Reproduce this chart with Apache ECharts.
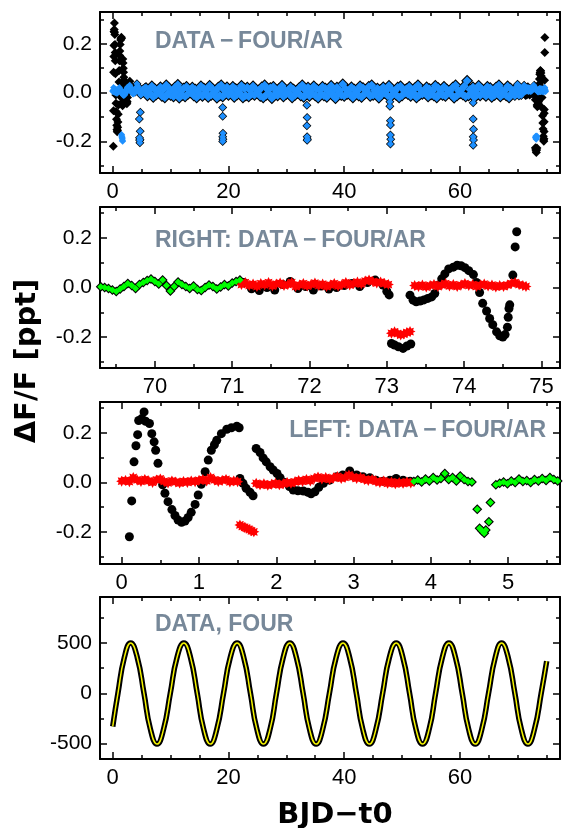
<!DOCTYPE html>
<html><head><meta charset="utf-8">
<script src="https://cdn.jsdelivr.net/npm/echarts@6/dist/echarts.min.js"></script>
<style>html,body{margin:0;padding:0;background:#fff}#c{width:566px;height:828px}</style>
</head><body><div id="c"></div>
<script>
// ---------- tick values ----------
const fullXMajor = [0, 20, 40, 60];
const fullXMinor = [5, 10, 15, 25, 30, 35, 45, 50, 55, 65, 70, 75];
const rightXMajor = [70, 71, 72, 73, 74, 75];
const rightXMinor = [69.5, 70.5, 71.5, 72.5, 73.5, 74.5];
const leftXMajor = [0, 1, 2, 3, 4, 5];
const leftXMinor = [0.5, 1.5, 2.5, 3.5, 4.5, 5.5];
const fluxYMajor = [-0.2, 0, 0.2];
const fluxYMinor = [-0.3, -0.1, 0.1, 0.3];
const fourYMajor = [-500, 0, 500];
const fourYMinor = [-250, 250, 750];

// ---------- LEFT end (days 0 - 5.7) ----------
// DATA-FOUR where it differs from the AR residual (black circles)
const leftData = [[0.10,-0.22],[0.13,-0.075],[0.16,0.083],[0.185,0.148],[0.207,0.193],[0.22,0.25],[0.26,0.258],[0.29,0.285],[0.31,0.247],[0.36,0.238],[0.39,0.197],[0.42,0.164],[0.44,0.13],[0.47,0.077],[0.53,-0.01],[0.56,-0.044],[0.60,-0.078],[0.65,-0.11],[0.69,-0.134],[0.73,-0.152],[0.775,-0.161],[0.82,-0.156],[0.86,-0.142],[0.90,-0.121],[0.95,-0.089],[0.99,-0.051],[1.03,-0.008],[1.08,0.043],[1.12,0.09],[1.16,0.13],[1.20,0.152],[1.23,0.17],[1.29,0.197],[1.36,0.215],[1.42,0.221],[1.49,0.227],[1.52,0.221],[1.53,0.016],[1.57,-0.004],[1.61,-0.024],[1.66,-0.04],[1.70,-0.054],[1.74,0.137],[1.79,0.121],[1.83,0.099],[1.87,0.083],[1.92,0.063],[1.96,0.05],[2.01,0.036],[2.05,0.019],[2.11,0.0],[2.17,-0.017],[2.22,-0.031],[2.28,-0.034],[2.35,-0.035],[2.41,-0.04],[2.45,-0.046],[2.50,-0.038],[2.55,-0.02],[2.61,-0.004],[2.69,0.009],[2.78,0.023],[2.86,0.03],[2.95,0.046],[3.04,0.03],[3.12,0.023],[3.21,0.019],[3.29,0.009],[3.38,0.005],[3.47,0.009],[3.55,0.016],[3.64,0.009],[3.73,0.005]];
// DATA-FOUR/AR residual (red)
const leftAR = [[0.00,0.005],[0.05,0.008],[0.10,0.003],[0.15,0.02],[0.20,0.01],[0.25,0.004],[0.30,0.012],[0.35,0.006],[0.40,0.0],[0.45,0.01],[0.50,0.014],[0.55,0.004],[0.60,-0.002],[0.65,0.006],[0.70,0.002],[0.75,-0.003],[0.80,0.004],[0.85,0.0],[0.90,0.006],[0.95,0.003],[1.00,0.008],[1.05,0.012],[1.10,0.006],[1.15,0.02],[1.20,0.01],[1.25,0.004],[1.30,0.008],[1.35,0.012],[1.40,0.002],[1.45,0.006],[1.50,0.003],[1.53,-0.172],[1.56,-0.178],[1.59,-0.182],[1.62,-0.186],[1.65,-0.19],[1.68,-0.196],[1.71,-0.2],[1.74,-0.004],[1.79,-0.01],[1.84,-0.006],[1.89,-0.012],[1.94,-0.008],[1.99,-0.004],[2.04,-0.01],[2.09,-0.006],[2.14,0.0],[2.19,-0.004],[2.24,0.002],[2.29,0.008],[2.34,0.004],[2.39,0.012],[2.44,0.006],[2.49,0.016],[2.54,0.022],[2.59,0.014],[2.64,0.02],[2.69,0.012],[2.74,0.018],[2.79,0.024],[2.84,0.016],[2.89,0.02],[2.94,0.03],[2.99,0.022],[3.04,0.016],[3.09,0.02],[3.14,0.012],[3.19,0.008],[3.24,0.012],[3.29,0.004],[3.34,0.0],[3.39,0.006],[3.44,-0.004],[3.49,0.002],[3.54,-0.006],[3.59,0.0],[3.64,-0.004],[3.69,0.002],[3.74,-0.002]];
// points where data-four and AR residual coincide (green)
const leftBoth = [[3.78,0.004],[3.83,0.01],[3.88,0.002],[3.93,0.014],[3.98,0.006],[4.03,0.02],[4.08,0.01],[4.13,0.016],[4.18,0.036],[4.23,0.012],[4.28,0.02],[4.33,0.006],[4.38,0.026],[4.43,0.012],[4.48,0.004],[4.53,0.002],[4.60,-0.109],[4.63,-0.185],[4.66,-0.196],[4.69,-0.206],[4.71,-0.193],[4.75,-0.159],[4.77,-0.081],[4.84,-0.01],[4.89,-0.004],[4.94,0.002],[4.99,-0.006],[5.04,0.006],[5.09,0.0],[5.14,0.014],[5.19,0.004],[5.24,0.008],[5.29,0.0],[5.34,0.012],[5.39,0.006],[5.44,0.016],[5.49,0.008],[5.54,0.02],[5.59,0.012],[5.64,0.006]];

// ---------- RIGHT end (days 69.3 - 74.8) ----------
const rightBoth = [[69.30,0.003],[69.35,0.0],[69.40,-0.004],[69.45,-0.01],[69.50,-0.016],[69.55,-0.006],[69.60,0.004],[69.65,0.016],[69.70,0.008],[69.75,-0.004],[69.80,0.012],[69.85,0.02],[69.90,0.028],[69.95,0.034],[70.00,0.024],[70.05,0.014],[70.10,0.03],[70.15,0.008],[70.20,-0.014],[70.25,0.004],[70.30,0.022],[70.35,0.012],[70.40,0.004],[70.45,-0.004],[70.50,0.006],[70.55,-0.008],[70.60,-0.012],[70.65,0.0],[70.70,0.01],[70.75,0.004],[70.80,-0.006],[70.85,0.002],[70.90,0.012],[70.95,0.006],[71.00,0.018],[71.05,0.024],[71.10,0.03]];
const rightData = [[71.15,0.02],[71.25,-0.005],[71.35,-0.012],[71.45,0.0],[71.55,-0.01],[71.65,0.012],[71.75,0.024],[71.85,-0.004],[71.95,0.004],[72.05,-0.01],[72.15,0.006],[72.25,-0.006],[72.35,0.0],[72.45,0.008],[72.55,0.016],[72.65,0.004],[72.75,0.02],[72.85,0.03],[72.95,0.01],[73.00,-0.015],[73.03,-0.03],[73.06,-0.226],[73.10,-0.232],[73.15,-0.239],[73.21,-0.246],[73.26,-0.236],[73.31,-0.228],[73.30,-0.031],[73.34,-0.051],[73.38,-0.058],[73.43,-0.055],[73.48,-0.05],[73.53,-0.044],[73.58,-0.038],[73.62,-0.024],[73.66,0.009],[73.71,0.035],[73.75,0.055],[73.80,0.075],[73.86,0.082],[73.91,0.09],[73.96,0.088],[74.01,0.08],[74.06,0.068],[74.12,0.052],[74.16,0.02],[74.20,-0.02],[74.24,-0.064],[74.29,-0.095],[74.33,-0.125],[74.37,-0.15],[74.42,-0.179],[74.46,-0.195],[74.50,-0.2],[74.53,-0.19],[74.56,-0.16],[74.57,-0.12],[74.58,-0.085],[74.59,-0.07],[74.63,0.05],[74.66,0.164],[74.68,0.225]];
const rightAR = [[71.12,0.012],[71.17,0.02],[71.22,0.008],[71.27,0.014],[71.32,0.004],[71.37,0.016],[71.42,0.01],[71.47,0.02],[71.52,0.006],[71.57,0.014],[71.62,0.018],[71.67,0.008],[71.72,0.012],[71.77,0.02],[71.82,0.004],[71.87,0.01],[71.92,0.016],[71.97,0.006],[72.02,0.012],[72.07,0.018],[72.12,0.008],[72.17,0.014],[72.22,0.004],[72.27,0.01],[72.32,0.016],[72.37,0.006],[72.42,0.012],[72.47,0.02],[72.52,0.01],[72.57,0.016],[72.62,0.022],[72.67,0.014],[72.72,0.026],[72.77,0.03],[72.82,0.024],[72.87,0.018],[72.92,0.022],[72.97,0.016],[73.02,0.012],[73.06,-0.185],[73.10,-0.179],[73.14,-0.186],[73.18,-0.192],[73.22,-0.188],[73.26,-0.182],[73.30,-0.178],[73.36,0.008],[73.41,0.004],[73.46,0.01],[73.51,0.002],[73.56,0.008],[73.61,0.012],[73.66,0.004],[73.71,0.01],[73.76,0.016],[73.81,0.006],[73.86,0.012],[73.91,0.004],[73.96,0.01],[74.01,0.016],[74.06,0.008],[74.11,0.012],[74.16,0.004],[74.21,0.01],[74.26,0.014],[74.31,0.006],[74.36,0.01],[74.41,0.002],[74.46,0.008],[74.51,0.004],[74.56,0.01],[74.61,0.016],[74.66,0.02],[74.71,0.012],[74.76,0.008],[74.80,0.004]];

// ---------- middle of the run (coincident data / residual): upper and lower parts of the band ----------
const midT = [5.75,6.25,6.75,7.25,7.75,8.25,8.75,9.25,9.75,10.25,
10.75,11.25,11.75,12.25,12.75,13.25,13.75,14.25,14.75,15.25,
15.75,16.25,16.75,17.25,17.75,18.25,18.75,19.25,19.75,20.25,
20.75,21.25,21.75,22.25,22.75,23.25,23.75,24.25,24.75,25.25,
25.75,26.25,26.75,27.25,27.75,28.25,28.75,29.25,29.75,30.25,
30.75,31.25,31.75,32.25,32.75,33.25,33.75,34.25,34.75,35.25,
35.75,36.25,36.75,37.25,37.75,38.25,38.75,39.25,39.75,40.25,
40.75,41.25,41.75,42.25,42.75,43.25,43.75,44.25,44.75,45.25,
45.75,46.25,46.75,47.25,47.75,48.25,48.75,49.25,49.75,50.25,
50.75,51.25,51.75,52.25,52.75,53.25,53.75,54.25,54.75,55.25,
55.75,56.25,56.75,57.25,57.75,58.25,58.75,59.25,59.75,60.25,
60.75,61.25,61.75,62.25,62.75,63.25,63.75,64.25,64.75,65.25,
65.75,66.25,66.75,67.25,67.75,68.25,68.75,69.25];
const midY = [0.018,0.010,0.026,0.014,0.008,0.022,0.012,0.030,0.016,0.006,
0.020,0.032,0.010,0.016,0.024,0.008,0.020,0.012,0.006,0.026,
0.016,0.010,0.028,0.014,0.006,0.020,0.030,0.010,0.022,0.008,
0.024,0.014,0.006,0.028,0.016,0.020,0.010,0.026,0.012,0.008,
0.022,0.030,0.012,0.018,0.024,0.006,0.014,0.028,0.010,0.008,
0.022,0.012,0.006,0.018,0.030,0.010,0.020,0.008,0.026,0.014,
0.010,0.024,0.016,0.006,0.028,0.012,0.020,0.008,0.034,0.014,
0.008,0.022,0.012,0.006,0.026,0.018,0.010,0.024,0.030,0.008,
0.016,0.010,0.022,0.008,0.028,0.012,0.006,0.020,0.026,0.010,
0.014,0.024,0.008,0.018,0.030,0.010,0.006,0.022,0.014,0.006,
0.028,0.018,0.010,0.024,0.012,0.006,0.020,0.030,0.008,0.012,
0.026,0.048,0.012,0.022,0.008,0.028,0.014,0.006,0.024,0.018,
0.006,0.020,0.030,0.010,0.008,0.026,0.016,0.008];
const midT2 = [6.0,6.5,7.0,7.5,8.0,8.5,9.0,9.5,10.0,10.5,
11.0,11.5,12.0,12.5,13.0,13.5,14.0,14.5,15.0,15.5,
16.0,16.5,17.0,17.5,18.0,18.5,19.0,19.5,20.0,20.5,
21.0,21.5,22.0,22.5,23.0,23.5,24.0,24.5,25.0,25.5,
26.0,26.5,27.0,27.5,28.0,28.5,29.0,29.5,30.0,30.5,
31.0,31.5,32.0,32.5,33.0,33.5,34.0,34.5,35.0,35.5,
36.0,36.5,37.0,37.5,38.0,38.5,39.0,39.5,40.0,40.5,
41.0,41.5,42.0,42.5,43.0,43.5,44.0,44.5,45.0,45.5,
46.0,46.5,47.0,47.5,48.0,48.5,49.0,49.5,50.0,50.5,
51.0,51.5,52.0,52.5,53.0,53.5,54.0,54.5,55.0,55.5,
56.0,56.5,57.0,57.5,58.0,58.5,59.0,59.5,60.0,60.5,
61.0,61.5,62.0,62.5,63.0,63.5,64.0,64.5,65.0,65.5,
66.0,66.5,67.0,67.5,68.0,68.5,69.0];
const midY2 = [-0.012,-0.004,-0.018,-0.008,-0.002,-0.014,-0.020,-0.006,-0.010,-0.016,
-0.004,-0.022,-0.010,-0.016,-0.006,0.000,-0.012,-0.020,-0.008,-0.014,
-0.002,-0.018,-0.010,-0.006,-0.022,-0.012,-0.016,-0.004,-0.010,-0.002,
-0.018,-0.008,-0.004,-0.020,-0.012,-0.016,-0.006,-0.010,-0.002,-0.014,
-0.020,-0.010,-0.004,-0.024,-0.008,-0.012,-0.002,-0.016,-0.006,-0.004,
-0.020,-0.010,-0.002,-0.012,-0.018,-0.006,-0.014,-0.004,-0.012,-0.022,
-0.006,-0.012,-0.018,-0.002,-0.010,-0.024,-0.004,-0.010,-0.014,-0.006,
-0.008,-0.020,-0.002,-0.012,-0.018,-0.006,0.000,-0.014,-0.010,-0.004,
-0.022,-0.008,-0.002,-0.012,-0.018,-0.004,-0.010,-0.020,-0.012,-0.002,
-0.006,-0.014,-0.002,-0.020,-0.010,-0.006,-0.002,-0.016,-0.008,-0.012,
-0.020,-0.004,-0.010,-0.014,0.000,-0.008,-0.022,-0.012,-0.004,-0.008,
-0.016,-0.012,-0.002,-0.020,-0.008,-0.012,-0.004,-0.014,-0.002,-0.018,
-0.010,-0.004,-0.016,-0.006,-0.012,-0.020,-0.002];
const midDips = [[19.00,-0.061],[19.00,-0.097],[19.05,-0.167],[19.00,-0.181],[19.05,-0.192],[19.00,-0.201],
[33.55,-0.052],[33.60,-0.102],[33.55,-0.136],[33.60,-0.181],[33.65,-0.192],[33.60,-0.196],
[47.90,-0.038],[47.90,-0.056],[48.00,-0.116],[48.00,-0.133],[48.00,-0.174],[48.05,-0.192],[48.00,-0.211],
[62.30,-0.042],[62.30,-0.109],[62.35,-0.151],[62.30,-0.181],[62.35,-0.195],[62.30,-0.216]];

// ---------- Fourier model (bottom panel) ----------
const fourT = [0.0,0.9,2.0,3.1,4.25,5.4,6.5,7.65,8.8,9.95,11.1,12.3,13.45,14.6,15.7,16.85,18.0,19.15,20.3,21.5,22.65,23.8,24.9,26.05,27.2,28.3,29.45,30.6,31.75,32.9,34.0,35.15,36.3,37.45,38.6,39.8,40.95,42.1,43.2,44.35,45.5,46.65,47.8,49.0,50.15,51.3,52.4,53.55,54.7,55.8,56.95,58.1,59.25,60.4,61.5,62.65,63.8,64.95,66.1,67.2,68.35,69.5,70.6,71.75,72.9,74.05,75.0];
const fourY = [-330,0,354,500,354,0,-354,-505,-354,0,354,500,354,0,-354,-505,-354,0,354,500,354,0,-354,-505,-354,0,354,500,354,0,-354,-505,-354,0,354,500,354,0,-354,-505,-354,0,354,500,354,0,-354,-505,-354,0,354,500,354,0,-354,-505,-354,0,354,500,354,0,-354,-505,-354,0,320];

// ---------- build ----------
const FONT = "'Liberation Sans', Arial, sans-serif";
const zip = (t, y) => t.map((v, i) => [v, y[i]]);
const mid = [].concat(zip(midT, midY), zip(midT2, midY2));
const endsData = [].concat(leftData, leftBoth, midDips, rightBoth, rightData);
const endsAR = [].concat(leftAR, leftBoth, midDips, rightBoth, rightAR);

const grids = [
  {left: 100, top: 12, width: 460, height: 161},
  {left: 100, top: 207, width: 460, height: 161},
  {left: 100, top: 402, width: 460, height: 162},
  {left: 100, top: 597, width: 460, height: 162}
];

function axesFor(dim, g, min, max, majors, minors, fmt, fs) {
  const pos = dim === 'x' ? ['bottom', 'top'] : ['left', 'right'];
  const line = {show: true, onZero: false, lineStyle: {color: '#000', width: 2}};
  const noLine = {show: false, onZero: false};
  const tick = (vals, len) => ({show: true, inside: true, length: len, customValues: vals, lineStyle: {color: '#000', width: 1.5}});
  const base = {type: 'value', gridIndex: g, min: min, max: max, splitLine: {show: false}, axisPointer: {show: false}};
  return [
    Object.assign({}, base, {position: pos[0], axisLine: line, axisTick: tick(majors, 7),
      axisLabel: {show: true, customValues: majors, formatter: fmt, margin: 8, color: '#000', fontSize: fs, fontFamily: FONT}}),
    Object.assign({}, base, {position: pos[0], axisLine: noLine, axisTick: tick(minors, 4), axisLabel: {show: false}}),
    Object.assign({}, base, {position: pos[1], axisLine: line, axisTick: tick(majors, 7), axisLabel: {show: false}}),
    Object.assign({}, base, {position: pos[1], axisLine: noLine, axisTick: tick(minors, 4), axisLabel: {show: false}})
  ];
}
const fmtInt = v => String(v);
const fmtFlux = v => Number(v).toFixed(1);

const xAxes = [].concat(
  axesFor('x', 0, -2.2, 77.3, fullXMajor, fullXMinor, fmtInt, 22),
  axesFor('x', 1, 69.29, 75.24, rightXMajor, rightXMinor, fmtInt, 22),
  axesFor('x', 2, -0.28, 5.67, leftXMajor, leftXMinor, fmtInt, 22),
  axesFor('x', 3, -2.2, 77.3, fullXMajor, fullXMinor, fmtInt, 22)
);
const yAxes = [].concat(
  axesFor('y', 0, -0.33, 0.33, fluxYMajor, fluxYMinor, fmtFlux, 21),
  axesFor('y', 1, -0.325, 0.325, fluxYMajor, fluxYMinor, fmtFlux, 21),
  axesFor('y', 2, -0.33, 0.325, fluxYMajor, fluxYMinor, fmtFlux, 21),
  axesFor('y', 3, -653, 957, fourYMajor, fourYMinor, fmtInt, 21)
);

const STAR = 'path://M10,5L7.77,6.15L8.54,8.54L6.15,7.77L5,10L3.85,7.77L1.46,8.54L2.23,6.15L0,5L2.23,3.85L1.46,1.46L3.85,2.23L5,0L6.15,2.23L8.54,1.46L7.77,3.85Z';
const BLACK = '#000000', BLUE = '#1e90ff', RED = '#ff0000', GREEN = '#00ff00', ANNOT = '#778899';
const sc = (ax, symbol, size, color, data, z) => ({type: 'scatter', xAxisIndex: ax, yAxisIndex: ax, symbol: symbol, symbolSize: size,
  itemStyle: {color: color, opacity: 1}, emphasis: {disabled: true}, data: data, z: z});

const series = [
  sc(0, 'diamond', 9, BLACK, endsData, 2),
  sc(0, 'diamond', 12, BLACK, mid, 2),
  sc(0, 'diamond', 9, BLUE, mid, 3),
  sc(0, 'diamond', 7, BLUE, endsAR, 3),

  sc(4, 'circle', 9, BLACK, rightData, 2),
  sc(4, 'diamond', 10, BLACK, rightBoth, 2),
  sc(4, STAR, 11, RED, rightAR, 3),
  sc(4, 'diamond', 7, GREEN, rightBoth, 3),

  sc(8, 'circle', 9, BLACK, leftData, 2),
  sc(8, 'diamond', 10, BLACK, leftBoth, 2),
  sc(8, STAR, 11, RED, leftAR, 3),
  sc(8, 'diamond', 7, GREEN, leftBoth, 3),

  {type: 'line', xAxisIndex: 12, yAxisIndex: 12, smooth: true, showSymbol: false, lineStyle: {color: BLACK, width: 5.5}, data: zip(fourT, fourY), z: 2},
  {type: 'line', xAxisIndex: 12, yAxisIndex: 12, smooth: true, showSymbol: false, lineStyle: {color: '#f5f500', width: 1.5}, data: zip(fourT, fourY), z: 3}
];

const annot = (text, x, y, align) => ({type: 'text', x: x, y: y, z: 100,
  style: {text: text, fill: ANNOT, fontFamily: FONT, fontWeight: 'bold', fontSize: 23, align: align, verticalAlign: 'middle'}});

const graphic = [
  annot('DATA\u2009\u2212\u2009FOUR/AR', 155, 42, 'left'),
  annot('RIGHT: DATA\u2009\u2212\u2009FOUR/AR', 155, 241, 'left'),
  annot('LEFT: DATA\u2009\u2212\u2009FOUR/AR', 546, 431, 'right'),
  annot('DATA, FOUR', 155, 625, 'left'),
  {type: 'text', x: 27, y: 361, rotation: Math.PI / 2, z: 100,
    style: {text: '\u0394F/F [ppt]', fill: '#000', fontFamily: "'DejaVu Sans', sans-serif", fontWeight: 'bold', fontSize: 29, align: 'center', verticalAlign: 'middle'}},
  {type: 'text', x: 335, y: 815, z: 100,
    style: {text: 'BJD\u2212t0', fill: '#000', fontFamily: "'DejaVu Sans', sans-serif", fontWeight: 'bold', fontSize: 29, align: 'center', verticalAlign: 'middle'}}
];

const chart = echarts.init(document.getElementById('c'), null, {renderer: 'canvas'});
chart.setOption({
  animation: false,
  backgroundColor: '#ffffff',
  grid: grids.map(g => Object.assign({outerBoundsMode: 'none', containLabel: false, show: false}, g)),
  xAxis: xAxes,
  yAxis: yAxes,
  series: series,
  graphic: graphic
});
</script></body></html>
